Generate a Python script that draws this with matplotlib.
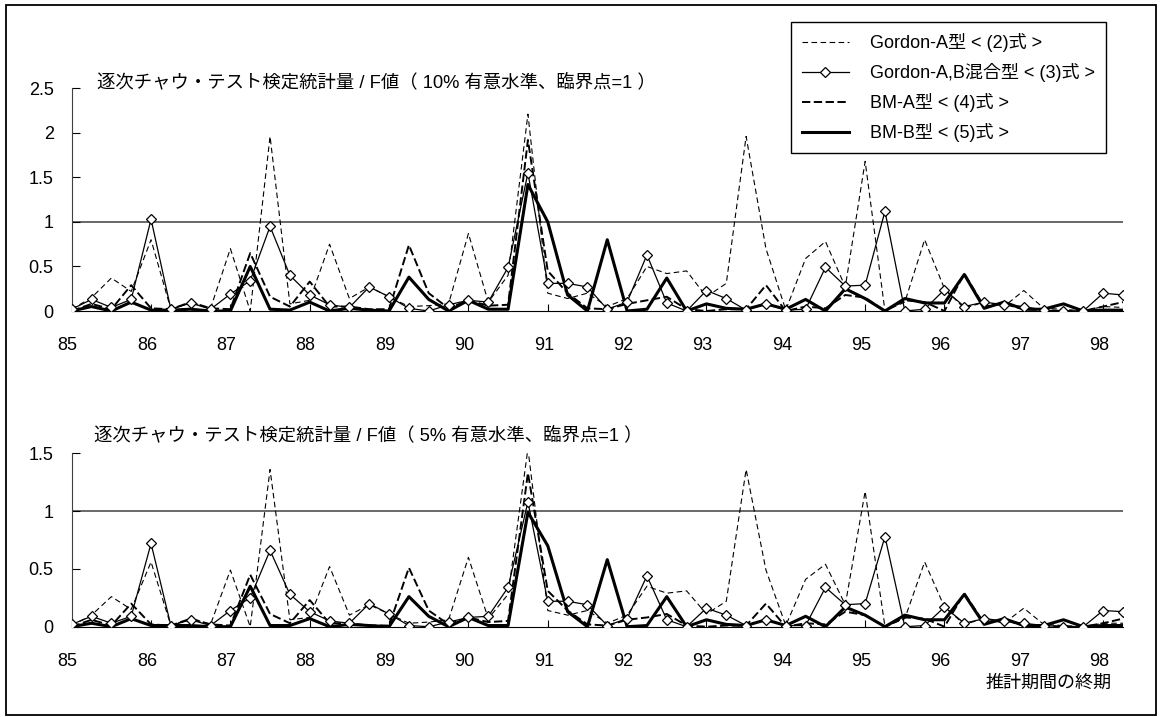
import numpy as np
import matplotlib
matplotlib.use('Agg')
import matplotlib.pyplot as plt
from matplotlib.patches import Rectangle
from matplotlib.transforms import ScaledTranslation

plt.rcParams['font.family'] = ['Liberation Sans', 'Noto Sans CJK JP']
plt.rcParams['lines.scale_dashes'] = False

# 四半期 (85Q1 - 98Q2)
quarters = np.arange(54)
year_labels = [str(y) for y in range(85, 99)]
critical = 1.0

labels = ['Gordon-A型 < (2)式 >', 'Gordon-A,B混合型 < (3)式 >',
          'BM-A型 < (4)式 >', 'BM-B型 < (5)式 >']

# 10% 有意水準
ga10 = [0.02, 0.15, 0.37, 0.22, 0.80, 0.02, 0.10, 0.03, 0.70, 0.00,
        1.96, 0.08, 0.12, 0.75, 0.14, 0.27, 0.16, 0.05, 0.06, 0.08,
        0.87, 0.10, 0.40, 2.21, 0.20, 0.14, 0.20, 0.05, 0.14, 0.50,
        0.42, 0.45, 0.16, 0.31, 1.96, 0.70, 0.01, 0.59, 0.78, 0.27,
        1.68, 0.00, 0.10, 0.80, 0.25, 0.03, 0.10, 0.05, 0.23, 0.03,
        0.02, 0.00, 0.05, 0.04]
gab10 = [0.02, 0.13, 0.04, 0.13, 1.03, 0.02, 0.09, 0.02, 0.19, 0.34,
         0.95, 0.40, 0.18, 0.07, 0.04, 0.27, 0.16, 0.03, 0.00, 0.07,
         0.12, 0.10, 0.49, 1.55, 0.31, 0.31, 0.27, 0.02, 0.10, 0.63,
         0.09, 0.00, 0.23, 0.14, 0.01, 0.08, 0.01, 0.02, 0.49, 0.28,
         0.29, 1.12, 0.00, 0.02, 0.24, 0.05, 0.10, 0.07, 0.05, 0.01,
         0.00, 0.00, 0.20, 0.18]
bma10 = [0.00, 0.08, 0.02, 0.29, 0.03, 0.02, 0.10, 0.03, 0.02, 0.65,
         0.16, 0.05, 0.33, 0.05, 0.05, 0.02, 0.02, 0.74, 0.20, 0.03,
         0.12, 0.06, 0.07, 1.92, 0.45, 0.20, 0.03, 0.02, 0.08, 0.12,
         0.16, 0.02, 0.00, 0.02, 0.02, 0.29, 0.00, 0.05, 0.03, 0.18,
         0.15, 0.00, 0.12, 0.10, 0.00, 0.42, 0.05, 0.08, 0.02, 0.01,
         0.00, 0.00, 0.05, 0.10]
bmb10 = [0.00, 0.05, 0.00, 0.10, 0.01, 0.01, 0.02, 0.00, 0.00, 0.50,
         0.02, 0.01, 0.10, 0.00, 0.03, 0.01, 0.00, 0.38, 0.13, 0.00,
         0.12, 0.02, 0.02, 1.42, 1.00, 0.18, 0.00, 0.80, 0.00, 0.02,
         0.37, 0.00, 0.08, 0.03, 0.02, 0.08, 0.02, 0.13, 0.00, 0.25,
         0.14, 0.00, 0.14, 0.09, 0.09, 0.41, 0.03, 0.10, 0.02, 0.02,
         0.08, 0.00, 0.01, 0.01]

# 5% 有意水準
ga5 = [0.01, 0.10, 0.26, 0.15, 0.56, 0.01, 0.07, 0.02, 0.49, 0.00,
       1.36, 0.06, 0.08, 0.52, 0.10, 0.19, 0.11, 0.03, 0.04, 0.06,
       0.60, 0.07, 0.28, 1.54, 0.14, 0.10, 0.14, 0.03, 0.10, 0.35,
       0.29, 0.31, 0.11, 0.22, 1.36, 0.49, 0.01, 0.41, 0.54, 0.19,
       1.17, 0.00, 0.07, 0.56, 0.17, 0.02, 0.07, 0.03, 0.16, 0.02,
       0.01, 0.00, 0.03, 0.03]
gab5 = [0.02, 0.09, 0.03, 0.09, 0.72, 0.01, 0.06, 0.01, 0.14, 0.25,
        0.66, 0.28, 0.13, 0.05, 0.03, 0.20, 0.11, 0.01, 0.00, 0.04,
        0.08, 0.09, 0.34, 1.08, 0.22, 0.22, 0.19, 0.01, 0.07, 0.44,
        0.06, 0.00, 0.16, 0.10, 0.01, 0.06, 0.01, 0.01, 0.34, 0.19,
        0.20, 0.78, 0.00, 0.01, 0.17, 0.03, 0.07, 0.05, 0.03, 0.01,
        0.00, 0.00, 0.14, 0.13]
bma5 = [0.00, 0.06, 0.01, 0.20, 0.02, 0.01, 0.07, 0.02, 0.01, 0.45,
        0.11, 0.03, 0.23, 0.03, 0.03, 0.01, 0.01, 0.51, 0.14, 0.02,
        0.08, 0.04, 0.05, 1.33, 0.31, 0.14, 0.02, 0.01, 0.06, 0.08,
        0.11, 0.01, 0.00, 0.01, 0.01, 0.20, 0.00, 0.03, 0.02, 0.13,
        0.10, 0.00, 0.08, 0.07, 0.00, 0.29, 0.03, 0.06, 0.01, 0.01,
        0.00, 0.00, 0.03, 0.07]
bmb5 = [0.00, 0.03, 0.00, 0.07, 0.01, 0.01, 0.01, 0.00, 0.00, 0.35,
        0.01, 0.01, 0.07, 0.00, 0.02, 0.01, 0.00, 0.26, 0.09, 0.00,
        0.08, 0.01, 0.01, 0.99, 0.70, 0.13, 0.00, 0.58, 0.00, 0.01,
        0.26, 0.00, 0.06, 0.02, 0.01, 0.06, 0.01, 0.09, 0.00, 0.17,
        0.10, 0.00, 0.10, 0.06, 0.06, 0.28, 0.02, 0.07, 0.01, 0.01,
        0.06, 0.00, 0.01, 0.01]

W, H = 1160, 717
fig = plt.figure(figsize=(W / 100, H / 100), dpi=100)

def panel(rect, ga, gab, bma, bmb, ymax):
    ax = fig.add_axes(rect)
    ax.axhline(critical, color='#404040', lw=1.1, zorder=1)
    h1, = ax.plot(quarters, ga, color='black', lw=0.8, dashes=(4, 2.5), zorder=2)
    h3, = ax.plot(quarters, bma, color='black', lw=1.4, dashes=(6, 2.5), zorder=3)
    h4, = ax.plot(quarters, bmb, color='black', lw=2.2, zorder=4)
    h2, = ax.plot(quarters, gab, color='black', lw=0.9, marker='D', ms=4.6,
                  mfc='white', mec='black', mew=0.9, zorder=5)
    ax.set_xlim(0, 53)
    ax.set_ylim(0, ymax)
    ax.set_xticks(quarters[::4])
    ax.set_xticklabels(year_labels)
    yt = np.arange(0, ymax + 0.01, 0.5)
    ax.set_yticks(yt)
    ax.set_yticklabels(['%g' % v for v in yt])
    ax.tick_params(axis='x', direction='in', length=5, width=0.8, labelsize=13, pad=19)
    ax.tick_params(axis='y', direction='in', length=6, width=0.8, labelsize=13, pad=13)
    for s in ['top', 'right']:
        ax.spines[s].set_visible(False)
    ax.spines['left'].set_color('#404040')
    ax.spines['bottom'].set_color('black')
    ax.patch.set_alpha(0)
    # Excel風: ラベルは目盛りより少し左
    shift = ScaledTranslation(-4 / 100, 0, fig.dpi_scale_trans)
    for lab in ax.get_xticklabels():
        lab.set_transform(lab.get_transform() + shift)
    return [h1, h2, h3, h4]

handles = panel([71.7 / W, 1 - 311 / H, (1123 - 71.7) / W, (311 - 88.3) / H],
                ga10, gab10, bma10, bmb10, 2.5)
panel([71.7 / W, 1 - 626.7 / H, (1123 - 71.7) / W, (626.7 - 453.3) / H],
      ga5, gab5, bma5, bmb5, 1.5)

fig.text(97 / W, 1 - 82 / H, '逐次チャウ・テスト検定統計量 / F値（ 10% 有意水準、臨界点=1 ）',
         fontsize=13.2, ha='left', va='center')
fig.text(94 / W, 1 - 435 / H, '逐次チャウ・テスト検定統計量 / F値（ 5% 有意水準、臨界点=1 ）',
         fontsize=13.2, ha='left', va='center')
fig.text(1112 / W, 1 - 683 / H, '推計期間の終期', fontsize=13, ha='right', va='center')

leg = fig.legend(handles, labels, loc='upper left', bbox_to_anchor=(791 / W, 1 - 22 / H),
                 frameon=True, fancybox=False, edgecolor='black', framealpha=1,
                 fontsize=13, handlelength=2.6, handletextpad=1.2, labelspacing=0.62,
                 borderpad=0.6, borderaxespad=0)
leg.get_frame().set_linewidth(1.0)

fig.add_artist(Rectangle((6 / W, 1 - 715 / H), (1156 - 6) / W, (715 - 5) / H,
                         transform=fig.transFigure, fill=False, lw=1.3, ec='black'))

fig.savefig('out.png', dpi=100)
